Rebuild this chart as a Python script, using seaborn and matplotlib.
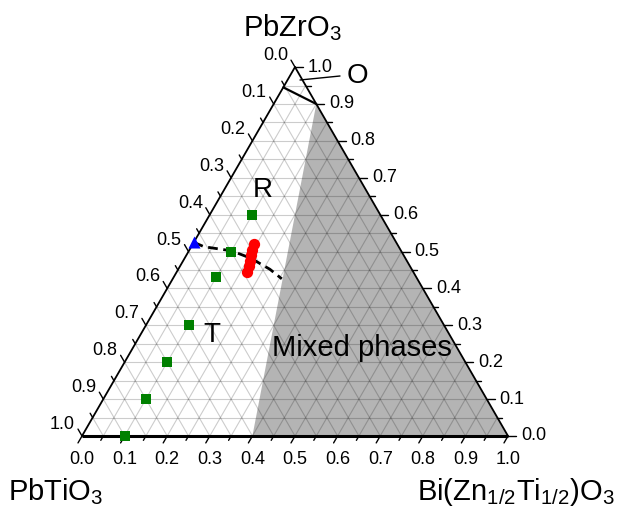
import numpy as np
import pandas as pd
import matplotlib
matplotlib.use("Agg")
import matplotlib.pyplot as plt
import seaborn as sns

# ---------------- data (compositions: BZT fraction, PZ fraction) ----------------
green_bzt = [0.10, 0.10, 0.10, 0.10, 0.10, 0.10, 0.10]
green_pz = [0.00, 0.10, 0.20, 0.30, 0.43, 0.50, 0.60]

red_bzt = [0.143, 0.147, 0.152, 0.156, 0.161, 0.165]
red_pz = [0.520, 0.505, 0.490, 0.475, 0.460, 0.445]

blue_bzt = [0.0]
blue_pz = [0.525]

mpb_bzt = [0.000, 0.030, 0.100, 0.155, 0.215, 0.256]
mpb_pz = [0.525, 0.513, 0.502, 0.482, 0.452, 0.426]

mixed_bzt = [0.4, 1.0, 0.1]
mixed_pz = [0.0, 0.0, 0.9]

ortho_bzt = [0.0, 0.1]
ortho_pz = [0.945, 0.9]

major_ticks = [0.0, 0.1, 0.2, 0.3, 0.4, 0.5, 0.6, 0.7, 0.8, 0.9, 1.0]
tick_labels = ["0.0", "0.1", "0.2", "0.3", "0.4", "0.5", "0.6", "0.7", "0.8", "0.9", "1.0"]
grid_step = 0.05

# ---------------- helpers ----------------
S3 = np.sqrt(3) / 2
SCALE = 426.0  # pixels per unit


def tern(b, z):
    b = np.asarray(b, float)
    z = np.asarray(z, float)
    return b + z / 2, z * S3


def px(n):
    return n / SCALE


def P(x, y):
    # pixel (from top-left) -> data coordinates
    return (x - 82) / SCALE, (436 - y) / SCALE


sns.set_theme(style="white")
plt.rcParams["font.family"] = ["Liberation Sans", "DejaVu Sans"]
plt.rcParams["text.color"] = "black"
plt.rcParams["mathtext.fontset"] = "custom"
plt.rcParams["mathtext.rm"] = "Liberation Sans"
plt.rcParams["mathtext.it"] = "Liberation Sans:italic"
plt.rcParams["mathtext.bf"] = "Liberation Sans:bold"

fig = plt.figure(figsize=(6.18, 5.14), dpi=100)
ax = fig.add_axes([0, 0, 1, 1])
ax.set_xlim(-82 / SCALE, (618 - 82) / SCALE)
ax.set_ylim(-78 / SCALE, 436 / SCALE)
ax.axis("off")

# mixed phase region
mx, my = tern(mixed_bzt, mixed_pz)
ax.fill(mx, my, color="#b4b4b4", lw=0, zorder=1)

# grid
levels = np.round(np.arange(grid_step, 1.0, grid_step), 4)
gkw = dict(color="black", alpha=0.2, lw=0.8, zorder=2)
for v in levels:
    x, y = tern([0, 1 - v], [v, v]); ax.plot(x, y, **gkw)           # const PZ
    x, y = tern([v, v], [0, 1 - v]); ax.plot(x, y, **gkw)           # const BZT
    x, y = tern([0, 1 - v], [1 - v, 0]); ax.plot(x, y, **gkw)       # const PT

# triangle frame
x, y = tern([0, 1], [0, 0]); ax.plot(x, y, color="black", lw=2.2, zorder=3, solid_capstyle="butt")
x, y = tern([0, 0], [0, 1]); ax.plot(x, y, color="black", lw=1.3, zorder=3)
x, y = tern([1, 0], [0, 1]); ax.plot(x, y, color="black", lw=1.3, zorder=3)

# ticks
tick_levels = np.round(np.arange(0, 1.0001, grid_step), 4)
Lmaj, Lmin = px(8), px(5)
for v in tick_levels:
    is_major = abs(v * 10 - round(v * 10)) < 1e-6
    L = Lmaj if is_major else Lmin
    # bottom (BZT)
    x0, y0 = tern(v, 0)
    ax.plot([x0, x0 - 0.5 * L], [y0, y0 - S3 * L], color="black", lw=1.0, zorder=3)
    # right (PZ)
    x0, y0 = tern(1 - v, v)
    ax.plot([x0, x0 + L], [y0, y0], color="black", lw=1.0, zorder=3)
    # left (PT)
    x0, y0 = tern(0, 1 - v)
    ax.plot([x0, x0 - 0.5 * L], [y0, y0 + S3 * L], color="black", lw=1.0, zorder=3)

for v, lab in zip(major_ticks, tick_labels):
    x0, y0 = tern(v, 0)
    ax.text(x0, y0 - px(24), lab, ha="center", va="center", fontsize=13)
    x0, y0 = tern(1 - v, v)
    ax.text(x0 + px(13), y0, lab, ha="left", va="center", fontsize=13)
    x0, y0 = tern(0, 1 - v)
    ax.text(x0 - px(7), y0 + px(11.5), lab, ha="right", va="center", fontsize=13)

# orthorhombic boundary
ox, oy = tern(ortho_bzt, ortho_pz)
ax.plot(ox, oy, color="black", lw=1.6, zorder=4)

# MPB dashed curve
lx, ly = tern(mpb_bzt, mpb_pz)
sns.lineplot(x=lx, y=ly, sort=False, estimator=None, ax=ax, color="black",
             lw=2.0, linestyle=(0, (3.5, 2)), zorder=4)

# markers
gx, gy = tern(green_bzt, green_pz)
sns.scatterplot(x=gx, y=gy, marker="s", s=52, color="#008000", linewidth=0, ax=ax, zorder=5)
rx, ry = tern(red_bzt, red_pz)
sns.scatterplot(x=rx, y=ry, marker="o", s=66, color="#ff0000", linewidth=0, ax=ax, zorder=5)
bx, by = tern(blue_bzt, blue_pz)
sns.scatterplot(x=bx, y=by, marker="^", s=75, color="#0000ff", linewidth=0, ax=ax, zorder=6)

# phase labels
ax.text(*P(263, 190), "R", ha="center", va="center", fontsize=20)
ax.text(*P(212, 335), "T", ha="center", va="center", fontsize=20)
ax.text(*P(362, 348), "Mixed phases", ha="center", va="center", fontsize=21)
ax.text(*P(357, 76), "O", ha="center", va="center", fontsize=20)
ax.plot(*zip(P(300, 80), P(340, 76)), color="black", lw=1.0, zorder=4)

# vertex titles
ax.text(*P(292, 36.7), r"PbZrO$_3$", ha="center", va="baseline", fontsize=21)
ax.text(*P(8, 500), r"PbTiO$_3$", ha="left", va="baseline", fontsize=21)
ax.text(*P(615, 500), r"Bi(Zn$_{1/2}$Ti$_{1/2}$)O$_3$", ha="right", va="baseline", fontsize=21)

if ax.get_legend():
    ax.get_legend().remove()
ax.set_xlim(-82 / SCALE, (618 - 82) / SCALE)
ax.set_ylim(-78 / SCALE, 436 / SCALE)

fig.savefig("out.png", dpi=100)
